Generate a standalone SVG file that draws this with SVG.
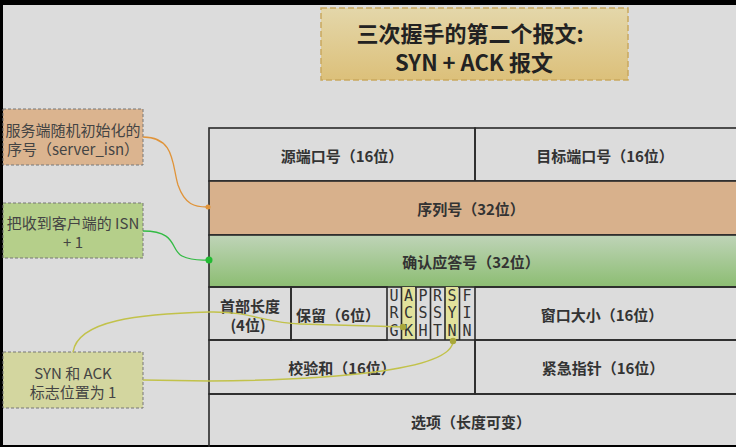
<svg xmlns="http://www.w3.org/2000/svg" width="736" height="447" viewBox="0 0 736 447">
<defs>
<linearGradient id="gTitle" x1="0" y1="0" x2="0" y2="1"><stop offset="0" stop-color="#e4d7aa"/><stop offset="1" stop-color="#dcc07a"/></linearGradient>
<linearGradient id="gAck" x1="0" y1="0" x2="0" y2="1"><stop offset="0" stop-color="#bfd4b8"/><stop offset="1" stop-color="#8cbd72"/></linearGradient>
<style>
.cell{fill:none;stroke:#2a2a2a;stroke-width:1.6}
.lbl{font-family:"Noto Sans CJK SC","Liberation Sans",sans-serif;font-size:15px;font-weight:bold;fill:#333;text-anchor:middle;dominant-baseline:central}
.flag{font-family:"DejaVu Sans Mono","Liberation Mono",monospace;font-size:15px;fill:#333;text-anchor:middle;dominant-baseline:central}
.note{font-family:"Noto Sans CJK SC","Liberation Sans",sans-serif;font-size:15px;fill:#444;text-anchor:middle;dominant-baseline:central}
.nbox{stroke:#777;stroke-width:1;stroke-dasharray:3 2}
.title{font-family:"Noto Sans CJK SC","Liberation Sans",sans-serif;font-size:22px;font-weight:bold;fill:#222;text-anchor:middle;dominant-baseline:central}
.hl{fill:#e2e29c}
</style>
</defs>
<rect x="0" y="0" width="736" height="447" fill="#dcdcdc"/>
<rect x="0" y="0" width="736" height="5" fill="#000"/>
<rect x="0" y="0" width="3" height="447" fill="#000"/>
<rect x="0" y="445" width="736" height="2" fill="#000"/>

<g id="title">
<rect x="321" y="8" width="307" height="72" fill="url(#gTitle)" stroke="#c9a85e" stroke-width="1.5" stroke-dasharray="6 3"/>
<text class="title" x="470" y="32">三次握手的第二个报文:</text>
<text class="title" x="474" y="61">SYN + ACK 报文</text>
</g>

<g id="header">
<g id="row1">
<rect class="cell" x="209" y="128" width="266" height="53"/>
<rect class="cell" x="475" y="128" width="263" height="53"/>
<text class="lbl" x="342" y="155">源端口号（16位）</text>
<text class="lbl" x="605" y="155">目标端口号（16位）</text>
</g>
<g id="row2">
<rect x="209" y="181" width="529" height="54" fill="#d8b18c" stroke="#2a2a2a" stroke-width="1.6"/>
<text class="lbl" x="471" y="208">序列号（32位）</text>
</g>
<g id="row3">
<rect x="209" y="235" width="529" height="52" fill="url(#gAck)" stroke="#2a2a2a" stroke-width="1.6"/>
<text class="lbl" x="471" y="261">确认应答号（32位）</text>
</g>
<g id="row4">
<rect class="hl" x="402" y="287" width="13" height="53"/>
<rect class="hl" x="445" y="287" width="13" height="53"/>
<rect class="cell" x="209" y="287" width="82" height="53"/>
<rect class="cell" x="291" y="287" width="96" height="53"/>
<path class="cell" d="M401.5 287V340M416 287V340M430.5 287V340M445 287V340M459.5 287V340"/>
<rect class="cell" x="475" y="287" width="263" height="53"/>
<text class="lbl" x="250" y="305">首部长度</text>
<text class="lbl" x="248" y="324">(4位)</text>
<text class="lbl" x="338" y="314">保留（6位）</text>
<text class="flag" x="394" y="296">U</text><text class="flag" x="394" y="313">R</text><text class="flag" x="394" y="331">G</text>
<text class="flag" x="408.5" y="296">A</text><text class="flag" x="408.5" y="313">C</text><text class="flag" x="408.5" y="331">K</text>
<text class="flag" x="423" y="296">P</text><text class="flag" x="423" y="313">S</text><text class="flag" x="423" y="331">H</text>
<text class="flag" x="437.5" y="296">R</text><text class="flag" x="437.5" y="313">S</text><text class="flag" x="437.5" y="331">T</text>
<text class="flag" x="452" y="296">S</text><text class="flag" x="452" y="313">Y</text><text class="flag" x="452" y="331">N</text>
<text class="flag" x="467" y="296">F</text><text class="flag" x="467" y="313">I</text><text class="flag" x="467" y="331">N</text>
<text class="lbl" x="602" y="314">窗口大小（16位）</text>
</g>
<g id="row5">
<rect class="cell" x="209" y="340" width="266" height="54"/>
<rect class="cell" x="475" y="340" width="263" height="54"/>
<text class="lbl" x="342" y="367">校验和（16位）</text>
<text class="lbl" x="603" y="367">紧急指针（16位）</text>
</g>
<g id="row6">
<rect class="cell" x="209" y="394" width="529" height="56"/>
<text class="lbl" x="471" y="421">选项（长度可变）</text>
</g>
</g>

<g id="note-isn">
<rect class="nbox" x="3" y="109" width="140" height="56" fill="#dbb48f"/>
<text class="note" x="73" y="129">服务端随机初始化的</text>
<text class="note" x="73" y="148">序号（server_isn）</text>
</g>
<g id="note-ack">
<rect class="nbox" x="3" y="203" width="140" height="55" fill="#b5cf8a"/>
<text class="note" x="73" y="222">把收到客户端的 ISN</text>
<text class="note" x="73" y="241">+ 1</text>
</g>
<g id="note-flags">
<rect class="nbox" x="3" y="352" width="140" height="56" fill="#d3d69f"/>
<text class="note" x="73" y="372">SYN 和 ACK</text>
<text class="note" x="73" y="391">标志位置为 1</text>
</g>

<g id="connectors" fill="none">
<path d="M143 137C175 137 172 165 178 185C185 205 195 207 207 207" stroke="#e0943a" stroke-width="1.3"/>
<circle cx="208" cy="207" r="2.5" fill="#e0943a"/>
<path d="M143 231C178 231 170 250 182 256C192 261 200 260 208 260" stroke="#33bb44" stroke-width="1.3"/>
<circle cx="209" cy="260" r="3.5" fill="#22bb33"/>
<path d="M73 352C78 320 140 314 209 312C250 311 265 323 300 324C340 325 370 326 403 327" stroke="#c2c24a" stroke-width="1.5"/>
<circle cx="403" cy="327" r="3.2" fill="#a8a73a"/>
<path d="M143 380L209 381C320 380 452 372 453 341" stroke="#c2c24a" stroke-width="1.5"/>
<circle cx="453" cy="341" r="3.2" fill="#a8a73a"/>
</g>
</svg>
